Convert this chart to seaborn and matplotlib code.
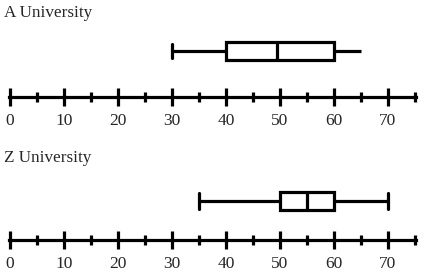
import numpy as np
import pandas as pd
import matplotlib
matplotlib.use("Agg")
import matplotlib.pyplot as plt
import seaborn as sns
from matplotlib.ticker import FixedLocator

# Five-number summaries
titles = ["A University", "Z University"]
a_scores = [30, 40, 49.5, 60, 65]
z_scores = [35, 50, 55, 60, 70]
major_ticks = [0, 10, 20, 30, 40, 50, 60, 70]
minor_ticks = [5, 15, 25, 35, 45, 55, 65, 75]
tick_labels = ["0", "10", "20", "30", "40", "50", "60", "70"]
x_range = (0, 75)

sns.set_theme(style="white")
plt.rcParams["font.family"] = ["Liberation Serif", "DejaVu Serif"]

W, H = 427, 277
fig = plt.figure(figsize=(W / 100, H / 100), dpi=100)

def px_axes(left, top, right, bottom):
    return fig.add_axes([left / W, 1 - bottom / H, (right - left) / W, (bottom - top) / H])

lw = 2.3
panels = [
    dict(scores=a_scores, title=titles[0], top=5, bottom=97, center=51, title_y=13, hide_cap=65, capw=0.3),
    dict(scores=z_scores, title=titles[1], top=150, bottom=240, center=201, title_y=158, hide_cap=None, capw=0.36),
]

for p in panels:
    ax = px_axes(9, p["top"], 416, p["bottom"])
    df = pd.DataFrame({"score": p["scores"]})
    sns.boxplot(data=df, x="score", ax=ax, orient="h", whis=np.inf,
                color="white", linecolor="black", linewidth=lw, width=0.4,
                capwidths=p["capw"], fill=True)
    if p["hide_cap"] is not None:
        for ln in ax.lines:
            xd = np.asarray(ln.get_xdata(), dtype=float)
            yd = np.asarray(ln.get_ydata(), dtype=float)
            if len(xd) == 2 and np.allclose(xd, p["hide_cap"]) and not np.isclose(yd[0], yd[1]):
                ln.set_visible(False)
    hpx = p["bottom"] - p["top"]
    frac = (p["bottom"] - p["center"]) / hpx
    span = 0.4 * hpx / 18.0
    ax.set_ylim(-frac * span, (1 - frac) * span)
    ax.set_xlim(x_range[0] - 0.2, x_range[1] + 0.2)
    ax.set_ylabel("")
    ax.set_xlabel("")
    ax.set_yticks([])
    for s in ["top", "left", "right"]:
        ax.spines[s].set_visible(False)
    ax.spines["bottom"].set_linewidth(lw)
    ax.spines["bottom"].set_color("black")
    ax.set_facecolor("none")
    ax.xaxis.set_major_locator(FixedLocator(major_ticks))
    ax.set_xticklabels(tick_labels)
    ax.xaxis.set_minor_locator(FixedLocator(minor_ticks))
    ax.tick_params(axis="x", which="major", direction="inout", length=13, width=lw,
                   color="black", labelsize=12.5, pad=5, bottom=True)
    ax.tick_params(axis="x", which="minor", direction="inout", length=7, width=lw,
                   color="black", bottom=True)
    fig.text(4 / W, 1 - p["title_y"] / H, p["title"], fontsize=12.3, va="center", ha="left")

fig.savefig("out.png", dpi=100)
